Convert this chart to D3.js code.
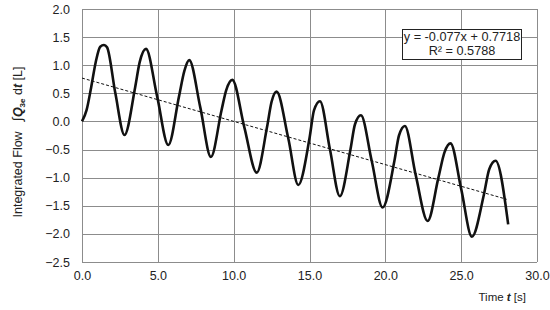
<!DOCTYPE html>
<html>
<head>
<meta charset="utf-8">
<script src="https://cdn.jsdelivr.net/npm/d3@7"></script>
<style>
  body { margin: 0; background: #fff; }
  svg text { font-family: "Liberation Sans", Arial, sans-serif; fill: #222; }
  .grid line { stroke: #8c8c8c; stroke-width: 1; }
</style>
</head>
<body>
<script>
// time [s] and integrated flow [L]
var timeS = [0, 0.3, 0.6, 0.9, 1.2, 1.45, 1.65, 2.2, 2.8, 3.5, 3.8, 4.22, 4.95, 5.69,
  6.4, 6.75, 7.07, 7.8, 8.5, 9.2, 9.5, 9.91, 10.7, 11.52, 12.2, 12.5, 12.83, 13.6, 14.26,
  15.0, 15.3, 15.69, 16.35, 17.0, 17.7, 18.0, 18.39, 19.1, 19.82, 20.6, 20.9, 21.29,
  22.0, 22.79, 23.5, 23.9, 24.3, 25.0, 25.71, 26.5, 26.85, 27.27, 28.1];
var flowL = [0, 0.2, 0.6, 1.05, 1.33, 1.36, 1.32, 0.5, -0.24, 0.6, 1.05, 1.29, 0.45, -0.42,
  0.45, 0.9, 1.09, 0.25, -0.63, 0.2, 0.55, 0.74, -0.1, -0.91, -0.1, 0.35, 0.53, -0.3, -1.13,
  -0.3, 0.2, 0.36, -0.5, -1.33, -0.5, -0.05, 0.11, -0.7, -1.53, -0.7, -0.25, -0.08,
  -0.95, -1.77, -1.0, -0.55, -0.39, -1.2, -2.05, -1.3, -0.85, -0.70, -1.83];

var xTicks = [0, 5, 10, 15, 20, 25, 30];
var yTicks = [-2.5, -2.0, -1.5, -1.0, -0.5, 0, 0.5, 1.0, 1.5, 2.0];

var trendSlope = -0.077, trendIntercept = 0.7718, trendEnd = 28.0;
var eqLines = ["y = -0.077x + 0.7718", "R² = 0.5788"];

var width = 550, height = 310;
var margin = {top: 9, right: 13, bottom: 48, left: 82};
var w = width - margin.left - margin.right;
var h = height - margin.top - margin.bottom;

var svg = d3.select("body").append("svg")
    .attr("width", width)
    .attr("height", height);

var g = svg.append("g")
    .attr("transform", "translate(" + margin.left + "," + margin.top + ")");

var xScale = d3.scaleLinear().domain([0, 30]).range([0, w]);
var yScale = d3.scaleLinear().domain([-2.5, 2.0]).range([h, 0]);

// gridlines
var grid = g.append("g").attr("class", "grid");
grid.selectAll(".hg").data(yTicks).enter().append("line")
    .attr("x1", 0).attr("x2", w)
    .attr("y1", function(d) { return Math.round(yScale(d)) + 0.5; })
    .attr("y2", function(d) { return Math.round(yScale(d)) + 0.5; });
grid.selectAll(".vg").data(xTicks).enter().append("line")
    .attr("y1", 0).attr("y2", h)
    .attr("x1", function(d) { return Math.round(xScale(d)) + 0.5; })
    .attr("x2", function(d) { return Math.round(xScale(d)) + 0.5; });

// axes (labels only)
var xAxis = g.append("g")
    .attr("transform", "translate(0," + h + ")")
    .call(d3.axisBottom(xScale).tickValues(xTicks).tickSize(0).tickPadding(9).tickFormat(d3.format(".1f")));
var yAxis = g.append("g")
    .call(d3.axisLeft(yScale).tickValues(yTicks).tickSize(0).tickPadding(12).tickFormat(d3.format(".1f")));
[xAxis, yAxis].forEach(function(a) {
    a.select(".domain").remove();
    a.selectAll("text").attr("font-size", "12.5px").attr("font-family", null);
});

// trend line
g.append("line")
    .attr("x1", xScale(0)).attr("y1", yScale(trendIntercept))
    .attr("x2", xScale(trendEnd)).attr("y2", yScale(trendIntercept + trendSlope * trendEnd))
    .attr("stroke", "#111")
    .attr("stroke-width", 1)
    .attr("stroke-dasharray", "3,2");

// data curve
var line = d3.line()
    .x(function(d, i) { return xScale(timeS[i]); })
    .y(function(d) { return yScale(d); })
    .curve(d3.curveMonotoneX);
g.append("path")
    .datum(flowL)
    .attr("d", line)
    .attr("fill", "none")
    .attr("stroke", "#111")
    .attr("stroke-width", 2.6)
    .attr("stroke-linejoin", "round");

// equation box
var box = g.append("g").attr("transform", "translate(" + (402 - margin.left) + "," + (29 - margin.top) + ")");
box.append("rect")
    .attr("x", 0.5).attr("y", 0.5)
    .attr("width", 119).attr("height", 30)
    .attr("fill", "#fff")
    .attr("stroke", "#222")
    .attr("stroke-width", 1);
box.selectAll(".eq").data(eqLines).enter().append("text")
    .attr("x", 60)
    .attr("y", function(d, i) { return 12 + i * 14; })
    .attr("text-anchor", "middle")
    .attr("font-size", "12.7px")
    .text(function(d) { return d; });

// x axis title
var xt = svg.append("text")
    .attr("x", 526).attr("y", 301)
    .attr("text-anchor", "end")
    .attr("font-size", "11.5px");
xt.append("tspan").text("Time ");
xt.append("tspan").attr("font-weight", "bold").attr("font-style", "italic").text("t");
xt.append("tspan").text(" [s]");

// y axis title
var yt = svg.append("text")
    .attr("transform", "translate(22," + 142 + ") rotate(-90)")
    .attr("text-anchor", "middle")
    .attr("font-size", "12.5px");
yt.append("tspan").text("Integrated Flow\u00A0\u00A0\u00A0");
yt.append("tspan").attr("font-size", "14px").text("\u222B");
yt.append("tspan").attr("font-weight", "bold").attr("font-style", "italic").text("Q");
yt.append("tspan").attr("font-size", "8px").attr("font-weight", "bold").attr("dy", 3).text("3e");
yt.append("tspan").attr("dy", -3).text("\u00A0d");
yt.append("tspan").attr("font-weight", "bold").attr("font-style", "italic").text("t");
yt.append("tspan").text(" [L]");
</script>
</body>
</html>
